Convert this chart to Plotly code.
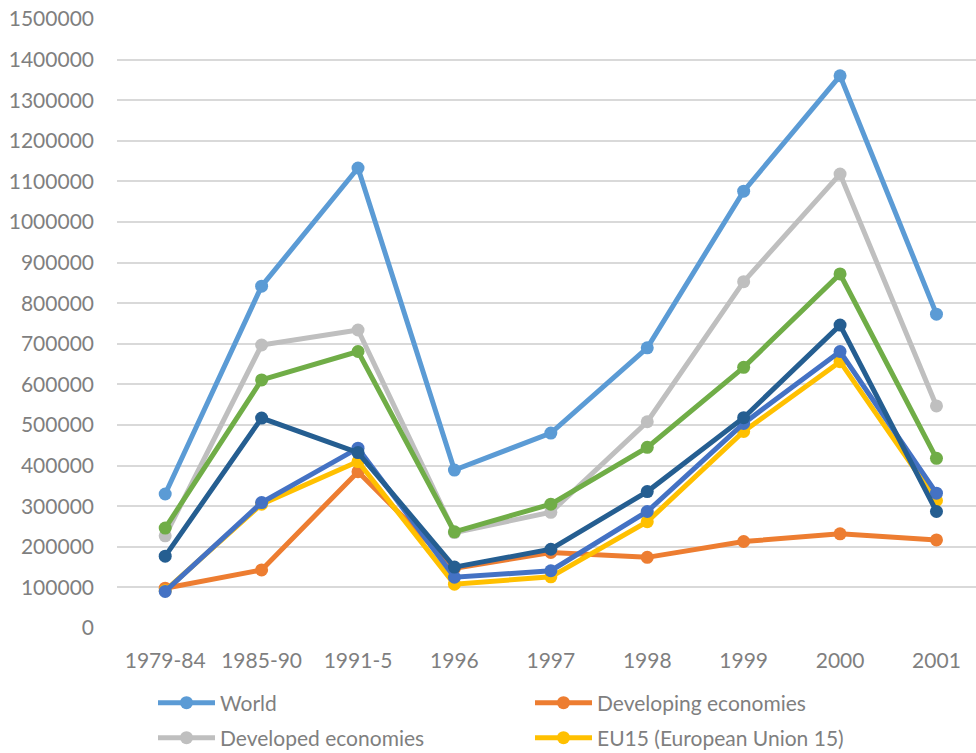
import plotly.graph_objects as go

categories = ["1979-84", "1985-90", "1991-5", "1996", "1997", "1998", "1999", "2000", "2001"]

world = [330000, 842000, 1133000, 389000, 480000, 690000, 1076000, 1360000, 773000]
developing = [98000, 143000, 385000, 147000, 186000, 174000, 213000, 232000, 217000]
developed = [227000, 697000, 734000, 235000, 285000, 508000, 853000, 1118000, 547000]
eu15 = [92000, 305000, 410000, 108000, 126000, 262000, 484000, 656000, 314000]
series5 = [90000, 309000, 443000, 125000, 141000, 287000, 504000, 681000, 332000]
series6 = [246000, 611000, 681000, 237000, 305000, 445000, 642000, 872000, 418000]
series7 = [177000, 517000, 432000, 150000, 194000, 336000, 518000, 746000, 287000]

series = [
    ("World", world, "#5B9BD5", "legend", True),
    ("Developing economies", developing, "#ED7D31", "legend", True),
    ("Developed economies", developed, "#BFBFBF", "legend2", True),
    ("EU15 (European Union 15)", eu15, "#FFC000", "legend2", True),
    ("Series 5", series5, "#4472C4", "legend", False),
    ("Series 6", series6, "#70AD47", "legend", False),
    ("Series 7", series7, "#255E91", "legend", False),
]

fig = go.Figure()
for name, vals, color, leg, show in series:
    fig.add_trace(go.Scatter(
        x=categories, y=vals, name=name, mode="lines+markers",
        line=dict(color=color, width=5),
        marker=dict(color=color, size=13),
        legend=leg, showlegend=show,
    ))

font = "Lato, Open Sans, sans-serif"

legend_common = dict(
    orientation="h", xref="container", yref="container",
    xanchor="left", yanchor="middle",
    entrywidth=305, entrywidthmode="pixels", itemwidth=57,
    font=dict(family=font, size=21, color="#7F7F7F"),
    bgcolor="rgba(0,0,0,0)", borderwidth=0,
)

fig.update_layout(
    width=976, height=753,
    margin=dict(l=117, r=0, t=19, b=125),
    paper_bgcolor="white", plot_bgcolor="white",
    xaxis=dict(
        type="category", range=[-0.5, 8.41], showgrid=False, zeroline=False,
        showline=False, ticks="", tickfont=dict(family=font, size=21, color="#7F7F7F"),
        ticklabelstandoff=18,
    ),
    yaxis=dict(
        range=[0, 1500000], dtick=100000, tickformat="d",
        showgrid=True, gridcolor="#D9D9D9", gridwidth=1.5, zeroline=False,
        showline=False, ticks="",
        tickfont=dict(family=font, size=21, color="#7F7F7F"),
        ticklabelstandoff=22,
    ),
    legend=dict(legend_common, x=153 / 976, y=1 - 703 / 753),
    legend2=dict(legend_common, x=153 / 976, y=1 - 738 / 753),
)

fig.write_html("out.html")
